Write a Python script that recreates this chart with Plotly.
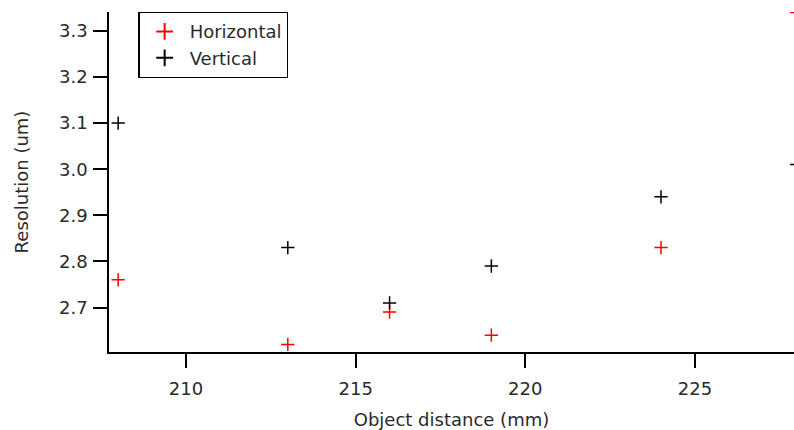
import plotly.graph_objects as go

distance_mm = [208, 213, 216, 219, 224, 228]
horizontal_um = [2.76, 2.62, 2.69, 2.64, 2.83, 3.34]
vertical_um = [3.10, 2.83, 2.71, 2.79, 2.94, 3.01]

x_ticks = [210, 215, 220, 225]
y_ticks = [2.7, 2.8, 2.9, 3.0, 3.1, 3.2, 3.3]

FONT = "DejaVu Sans"
TXT = "#2a2a2a"

fig = go.Figure()
fig.add_trace(go.Scatter(
    x=distance_mm, y=horizontal_um, mode="markers", name="Horizontal",
    marker=dict(symbol="cross-thin", size=9.5, line=dict(color="#ff0000", width=1.5)),
))
fig.add_trace(go.Scatter(
    x=distance_mm, y=vertical_um, mode="markers", name="Vertical",
    marker=dict(symbol="cross-thin", size=9.5, line=dict(color="#000000", width=1.5)),
))

axis_common = dict(
    showgrid=False, zeroline=False, showline=True, linecolor="#000000", linewidth=1.5,
    ticks="outside", ticklen=14, tickwidth=1.5, tickcolor="#000000",
    tickfont=dict(family=FONT, size=18, color=TXT),
    mirror=False,
)

fig.update_layout(
    width=794, height=430,
    margin=dict(l=109, r=0, t=12, b=78),
    paper_bgcolor="white", plot_bgcolor="white",
    showlegend=True,
    legend=dict(
        x=0.043, y=1.0, xanchor="left", yanchor="top",
        bordercolor="#000000", borderwidth=1.2, bgcolor="white",
        font=dict(family=FONT, size=18, color=TXT),
        tracegroupgap=0, itemsizing="constant", itemwidth=40,
    ),
    xaxis=dict(
        range=[207.73, 227.92], tickvals=x_ticks, ticklabelstandoff=6,
        title=dict(text="Object distance (mm)", font=dict(family=FONT, size=18, color=TXT), standoff=16),
        **axis_common,
    ),
    yaxis=dict(
        range=[2.6035, 3.341], tickvals=y_ticks, tickformat=".1f", ticklabelstandoff=2,
        title=dict(text="Resolution (um)", font=dict(family=FONT, size=18, color=TXT), standoff=26),
        **axis_common,
    ),
)

fig.write_html("out.html")
